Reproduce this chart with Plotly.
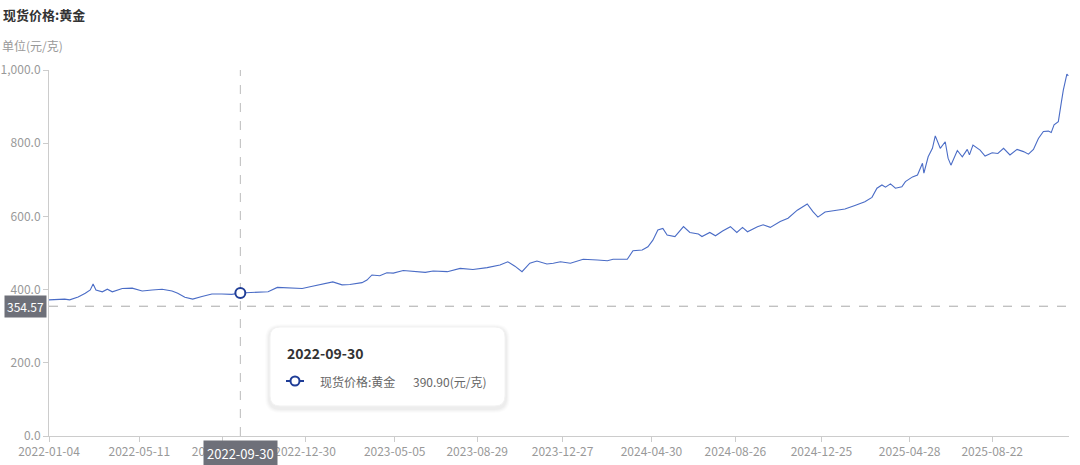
import plotly.graph_objects as go

# ---------------- data ----------------
dates = [
    "2022-01-04", "2022-01-15", "2022-01-26", "2022-02-02", "2022-02-14", "2022-02-24",
    "2022-03-03", "2022-03-07", "2022-03-11", "2022-03-20", "2022-03-27", "2022-04-03",
    "2022-04-17", "2022-05-01", "2022-05-15", "2022-05-29", "2022-06-12", "2022-06-26",
    "2022-07-04", "2022-07-14", "2022-07-25", "2022-08-07", "2022-08-21", "2022-09-04",
    "2022-09-18", "2022-09-30", "2022-10-25", "2022-11-08", "2022-11-21", "2022-12-06",
    "2022-12-26",
    "2023-01-06", "2023-01-20", "2023-02-07", "2023-02-20", "2023-03-03", "2023-03-20",
    "2023-03-27", "2023-04-03", "2023-04-14", "2023-04-24", "2023-05-03", "2023-05-17",
    "2023-05-31", "2023-06-17", "2023-06-28", "2023-07-18", "2023-08-05", "2023-08-23",
    "2023-09-12", "2023-09-30", "2023-10-11", "2023-10-21", "2023-10-31", "2023-11-11",
    "2023-11-21", "2023-12-05", "2023-12-14", "2023-12-24",
    "2024-01-07", "2024-01-25", "2024-02-14", "2024-02-28", "2024-03-07", "2024-03-27",
    "2024-04-04", "2024-04-17", "2024-04-25", "2024-05-02", "2024-05-09", "2024-05-16",
    "2024-05-22", "2024-06-02", "2024-06-14", "2024-06-23", "2024-07-05", "2024-07-10",
    "2024-07-21", "2024-07-29", "2024-08-08", "2024-08-19", "2024-08-28", "2024-09-05",
    "2024-09-12", "2024-09-26", "2024-10-04", "2024-10-14", "2024-10-28", "2024-11-08",
    "2024-11-21", "2024-12-05", "2024-12-13", "2024-12-20", "2024-12-30",
    "2025-01-13", "2025-01-27", "2025-02-10", "2025-02-24", "2025-03-06", "2025-03-13",
    "2025-03-20", "2025-03-25", "2025-04-01", "2025-04-08", "2025-04-17", "2025-04-22",
    "2025-05-02", "2025-05-09", "2025-05-16", "2025-05-18", "2025-05-24", "2025-05-30",
    "2025-06-03", "2025-06-10", "2025-06-17", "2025-06-21", "2025-06-25", "2025-07-04",
    "2025-07-11", "2025-07-18", "2025-07-21", "2025-07-26", "2025-08-05", "2025-08-12",
    "2025-08-22", "2025-08-30", "2025-09-07", "2025-09-16", "2025-09-26", "2025-10-05",
    "2025-10-12", "2025-10-19", "2025-10-26", "2025-11-02", "2025-11-09", "2025-11-13",
    "2025-11-17", "2025-11-23", "2025-11-27", "2025-11-30", "2025-12-05", "2025-12-07",
]
prices = [
    372, 373, 374, 372, 380, 390,
    399, 415, 399, 394, 401, 394,
    403, 404, 396, 399, 401, 396,
    390, 379, 374, 381, 388, 388,
    387, 390.90, 393, 394, 406, 405,
    403,
    408, 414, 421, 413, 414, 419,
    426, 440, 438, 446, 445, 452,
    449, 447, 451, 449, 458, 455,
    460, 467, 476, 464, 449, 472,
    478, 470, 472, 476,
    472, 483, 481, 479, 483, 483,
    506, 508, 517, 535, 563, 567,
    549, 545, 572, 556, 552, 545,
    556, 547, 560, 572, 556, 570,
    558, 572, 577, 570, 586, 595,
    617, 634, 613, 598, 612,
    615, 620, 630, 640, 652, 677,
    686, 680, 689, 677, 681, 695,
    708, 713, 745, 718, 763, 786,
    820, 786, 804, 759, 740, 780,
    763, 783, 768, 795, 781, 765,
    774, 772, 786, 768, 783, 777,
    770, 783, 813, 832, 833, 829,
    850, 859, 909, 945, 989, 984,
]

series_name = "现货价格:黄金"
unit_label = "单位(元/克)"
unit = "元/克"
x_ticks = ["2022-01-04", "2022-05-11", "2022-09-05", "2022-12-30", "2023-05-05",
           "2023-08-29", "2023-12-27", "2024-04-30", "2024-08-26", "2024-12-25",
           "2025-04-28", "2025-08-22"]
y_ticks = [0, 200, 400, 600, 800, 1000]
hover_date = "2022-09-30"
cursor_value = 354.57

hover_idx = dates.index(hover_date)
hover_value = prices[hover_idx]

# ---------------- layout geometry (pixels) ----------------
W, H = 1080, 465
L, R, T, B = 49, 1069, 70, 436


def px_x(px):
    return (px - L) / (R - L)


def px_y(py):
    return (B - py) / (B - T)


def rrect_path(x0, y0, x1, y1, r):
    pts = [
        ("M", [(x0 + r, y0)]),
        ("L", [(x1 - r, y0)]),
        ("Q", [(x1, y0), (x1, y0 + r)]),
        ("L", [(x1, y1 - r)]),
        ("Q", [(x1, y1), (x1 - r, y1)]),
        ("L", [(x0 + r, y1)]),
        ("Q", [(x0, y1), (x0, y1 - r)]),
        ("L", [(x0, y0 + r)]),
        ("Q", [(x0, y0), (x0 + r, y0)]),
    ]
    s = ""
    for cmd, ps in pts:
        s += cmd + " " + " ".join(f"{px_x(a):.5f},{px_y(b):.5f}" for a, b in ps) + " "
    return s + "Z"


FONT = "Noto Sans CJK SC, Microsoft YaHei, sans-serif"
LINE_COLOR = "#4a6cc6"
MARK_COLOR = "#1f3d97"
AXIS_COLOR = "#cccccc"
LABEL_COLOR = "#999999"
POINTER_BG = "#6e7079"

fig = go.Figure()
fig.add_trace(go.Scatter(
    x=dates, y=prices, mode="lines", name=series_name,
    line=dict(color=LINE_COLOR, width=1.1), hoverinfo="skip",
))
fig.add_trace(go.Scatter(
    x=[dates[hover_idx]], y=[hover_value], mode="markers", name=series_name,
    marker=dict(size=10, color="white", line=dict(color=MARK_COLOR, width=2)),
    hoverinfo="skip",
))

shapes = []
# crosshair
shapes.append(dict(type="line", xref="x", yref="paper", x0=hover_date, x1=hover_date,
                   y0=0, y1=1, line=dict(color="#bbbbbb", width=1, dash="dash"), layer="below"))
shapes.append(dict(type="line", xref="paper", yref="y", x0=0, x1=1,
                   y0=cursor_value, y1=cursor_value,
                   line=dict(color="#aaaaaa", width=1, dash="dash"), layer="below"))

# tooltip box with soft shadow
bx0, by0, bx1, by1 = 270, 327, 505, 406
for i, a in enumerate([0.012, 0.016, 0.02, 0.025]):
    g = 5 - i
    shapes.append(dict(type="path", xref="paper", yref="paper",
                       path=rrect_path(bx0 - g, by0 - g + 2, bx1 + g, by1 + g + 2, 10 + g),
                       fillcolor=f"rgba(0,0,0,{a})", line=dict(width=0), layer="above"))
shapes.append(dict(type="path", xref="paper", yref="paper",
                   path=rrect_path(bx0, by0, bx1, by1, 10),
                   fillcolor="white", line=dict(color="#f2f2f2", width=1), layer="above"))
# tooltip legend icon
shapes.append(dict(type="line", xref="paper", yref="paper",
                   x0=px_x(286), x1=px_x(304), y0=px_y(381), y1=px_y(381),
                   line=dict(color=MARK_COLOR, width=2), layer="above"))
shapes.append(dict(type="circle", xref="paper", yref="paper",
                   x0=px_x(290.5), x1=px_x(299.5), y0=px_y(385.5), y1=px_y(376.5),
                   fillcolor="white", line=dict(color=MARK_COLOR, width=2), layer="above"))

annotations = [
    dict(text="<b>" + series_name + "</b>", xref="paper", yref="paper",
         x=px_x(1), y=px_y(14), xanchor="left", yanchor="middle", showarrow=False,
         font=dict(size=13, color="#333333", family=FONT)),
    dict(text=unit_label, xref="paper", yref="paper",
         x=px_x(0), y=px_y(46), xanchor="left", yanchor="middle", showarrow=False,
         font=dict(size=12, color=LABEL_COLOR, family=FONT)),
    # axis pointer labels
    dict(text=f"{cursor_value:.2f}", xref="paper", yref="y", x=px_x(47), y=cursor_value,
         xanchor="right", yanchor="middle", showarrow=False, bgcolor=POINTER_BG,
         borderpad=2, font=dict(size=12, color="white", family=FONT)),
    dict(text=hover_date, xref="x", yref="paper", x=hover_date, y=px_y(440),
         xanchor="center", yanchor="top", showarrow=False, bgcolor=POINTER_BG,
         borderpad=3, font=dict(size=13, color="white", family=FONT)),
    # tooltip texts
    dict(text="<b>" + hover_date + "</b>", xref="paper", yref="paper",
         x=px_x(285), y=px_y(353), xanchor="left", yanchor="middle", showarrow=False,
         font=dict(size=14, color="#333333", family=FONT)),
    dict(text=series_name, xref="paper", yref="paper",
         x=px_x(318), y=px_y(381), xanchor="left", yanchor="middle", showarrow=False,
         font=dict(size=12, color="#666666", family=FONT)),
    dict(text=f"{hover_value:.2f}({unit})", xref="paper", yref="paper",
         x=px_x(411), y=px_y(381), xanchor="left", yanchor="middle", showarrow=False,
         font=dict(size=12, color="#666666", family=FONT)),
]

fig.update_layout(
    width=W, height=H,
    margin=dict(l=L, r=W - R, t=T, b=H - B, autoexpand=False),
    paper_bgcolor="white", plot_bgcolor="white",
    showlegend=False, hovermode=False,
    font=dict(family=FONT, size=12, color=LABEL_COLOR),
    shapes=shapes, annotations=annotations,
    xaxis=dict(
        type="date", range=["2022-01-04", "2025-12-08"], automargin=False,
        tickmode="array", tickvals=x_ticks, ticktext=x_ticks,
        showgrid=False, zeroline=False,
        showline=True, linecolor=AXIS_COLOR, linewidth=1,
        ticks="outside", ticklen=5, tickcolor=AXIS_COLOR,
        tickfont=dict(size=12, color=LABEL_COLOR, family=FONT),
    ),
    yaxis=dict(
        range=[0, 1000], tickmode="array", tickvals=y_ticks, automargin=False,
        tickformat=",.1f", showgrid=False, zeroline=False,
        showline=True, linecolor=AXIS_COLOR, linewidth=1,
        ticks="outside", ticklen=5, tickcolor=AXIS_COLOR,
        tickfont=dict(size=12, color=LABEL_COLOR, family=FONT),
    ),
)

fig.write_html(
    "out.html",
    config={"displayModeBar": False, "staticPlot": True},
    post_script="document.body.style.margin='0';document.body.style.overflow='hidden';",
)
